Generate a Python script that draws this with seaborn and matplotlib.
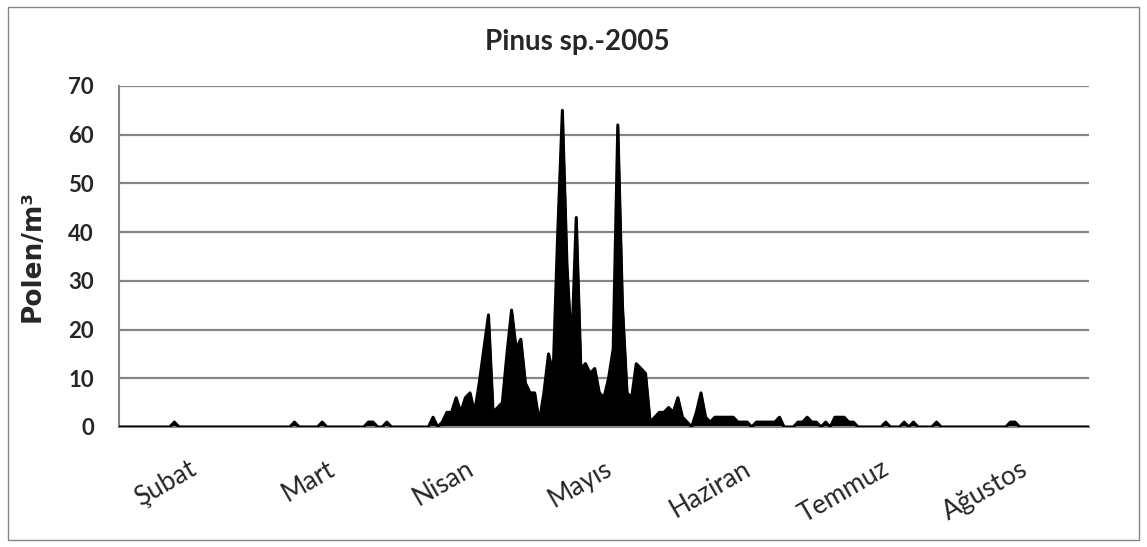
import matplotlib
matplotlib.use("Agg")
import matplotlib.pyplot as plt
import seaborn as sns
import numpy as np
import pandas as pd

# daily pollen counts (Polen/m3), one value per day
pollen = [
    0, 0, 0, 0, 0, 0, 0, 0, 0, 0,
    0, 0, 1, 0, 0, 0, 0, 0, 0, 0,
    0, 0, 0, 0, 0, 0, 0, 0, 0, 0,
    0, 0, 0, 0, 0, 0, 0, 0, 1, 0,
    0, 0, 0, 0, 1, 0, 0, 0, 0, 0,
    0, 0, 0, 0, 1, 1, 0, 0, 1, 0,
    0, 0, 0, 0, 0, 0, 0, 0, 2, 0,
    1, 3, 3, 6, 3, 6, 7, 3, 9, 16,
    23, 3, 4, 5, 15, 24, 16, 18, 9, 7,
    7, 1, 7, 15, 11, 40, 65, 33, 16, 43,
    12, 13, 11, 12, 7, 6, 10, 16, 62, 25,
    7, 6, 13, 12, 11, 1, 2, 3, 3, 4,
    3, 6, 2, 1, 0, 3, 7, 2, 1, 2,
    2, 2, 2, 2, 1, 1, 1, 0, 1, 1,
    1, 1, 1, 2, 0, 0, 0, 1, 1, 2,
    1, 1, 0, 1, 0, 2, 2, 2, 1, 1,
    0, 0, 0, 0, 0, 0, 1, 0, 0, 0,
    1, 0, 1, 0, 0, 0, 0, 1, 0, 0,
    0, 0, 0, 0, 0, 0, 0, 0, 0, 0,
    0, 0, 0, 1, 1, 0, 0, 0, 0, 0,
    0, 0, 0, 0, 0, 0, 0, 0, 0, 0, 0,
]
months = ["Şubat", "Mart", "Nisan", "Mayıs", "Haziran", "Temmuz", "Ağustos"]
y_ticks = [0, 10, 20, 30, 40, 50, 60, 70]

df = pd.DataFrame({"day": np.arange(len(pollen)), "pollen": pollen})

sns.set_style("white")
plt.rcParams["font.family"] = ["Lato", "DejaVu Sans"]

fig = plt.figure(figsize=(11.47, 5.47), dpi=100)
ax = fig.add_axes([0.1037, 0.2194, 0.8457, 0.6234])

grid_col = "#868686"
for v in y_ticks[1:]:
    ax.axhline(v, color=grid_col, lw=1.6, zorder=0)

ax.fill_between(df["day"], df["pollen"], color="black", zorder=2)
sns.lineplot(data=df, x="day", y="pollen", color="black", lw=2.2, ax=ax, zorder=3)

ax.set_xlim(0, len(pollen) - 1)
ax.set_ylim(0, 70)
ax.set_yticks(y_ticks)
ax.set_yticklabels([str(v) for v in y_ticks], fontsize=16, fontweight="bold")
ax.tick_params(axis="y", length=0, pad=18)

ax.set_xticks(range(15, len(pollen) - 1, 30))
ax.set_xticklabels(months, rotation=30, ha="right", rotation_mode="anchor", fontsize=19)
ax.set_xticks([len(pollen) - 1], minor=True)
ax.tick_params(axis="x", which="both", length=5, width=1.5, color=grid_col, pad=16, direction="out")

ax.set_xlabel("")
ax.set_ylabel("Polen/m³", fontsize=19, fontweight="bold", family="DejaVu Sans")
ax.yaxis.set_label_coords(-0.076, 0.5)

for side in ["top", "right"]:
    ax.spines[side].set_visible(False)
ax.spines["left"].set_color(grid_col)
ax.spines["left"].set_linewidth(1.5)
ax.spines["bottom"].set_color(grid_col)
ax.spines["bottom"].set_linewidth(1.5)

fig.text(0.503, 1 - 42 / 547, "Pinus sp.-2005", ha="center", va="center",
         fontsize=20, fontweight="bold")

border = plt.Rectangle((8 / 1147, 7 / 547), 1131 / 1147, 533 / 547, transform=fig.transFigure,
                       fill=False, edgecolor=grid_col, lw=1)
fig.patches.append(border)

fig.savefig("out.png", dpi=100)
